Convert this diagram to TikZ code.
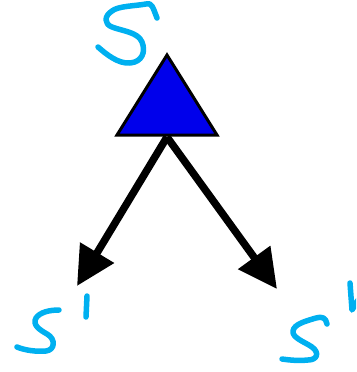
\documentclass[tikz,border=0pt]{standalone}
\usetikzlibrary{arrows.meta}
\definecolor{ink}{RGB}{0,176,240}
\definecolor{triblue}{RGB}{0,0,235}
\tikzset{
  hand/.style={draw=ink, line width=5.5pt, line cap=round, line join=round},
  edge/.style={draw=black, line width=7.5pt, -{Triangle[length=39pt,width=38pt]}},
}
\begin{document}
\begin{tikzpicture}[x=1pt,y=-1pt]
\useasboundingbox (0,0) rectangle (356,372);
\clip (0,0) rectangle (356,372);
% triangle
\draw[fill=triblue, draw=black, line width=3pt, line join=miter] (167,55) -- (217,135) -- (117,135) -- cycle;
\coordinate (src) at (167,137);
\coordinate (left) at (77,286);
\coordinate (right) at (277,289);
\draw[edge] (src) -- (left);
\draw[edge] (src) -- (right);
% top S
\draw[hand] (157,18) .. controls (153,8) and (152,2) .. (146,4)
  .. controls (135,6) and (118,6) .. (112,11)
  .. controls (104,16) and (104,24) .. (112,27)
  .. controls (122,31) and (138,32) .. (142,42)
  .. controls (146,52) and (142,62) .. (130,63)
  .. controls (118,64) and (106,54) .. (98,47);
% left S'
\draw[hand] (59,310) .. controls (50,310) and (40,312) .. (36,318)
  .. controls (32,325) and (40,330) .. (47,334)
  .. controls (56,339) and (55,350) .. (46,351)
  .. controls (36,352) and (24,350) .. (17,347);
\draw[hand] (87,296) -- (86,317);
% right S'
\draw[hand] (327,324) .. controls (326,318) and (322,316) .. (316,318)
  .. controls (306,321) and (294,324) .. (293,331)
  .. controls (292,338) and (305,342) .. (312,347)
  .. controls (320,353) and (317,360) .. (308,360)
  .. controls (298,361) and (289,360) .. (282,359);
\draw[hand] (350,283) -- (352,310) -- (358,300);
\end{tikzpicture}
\end{document}
